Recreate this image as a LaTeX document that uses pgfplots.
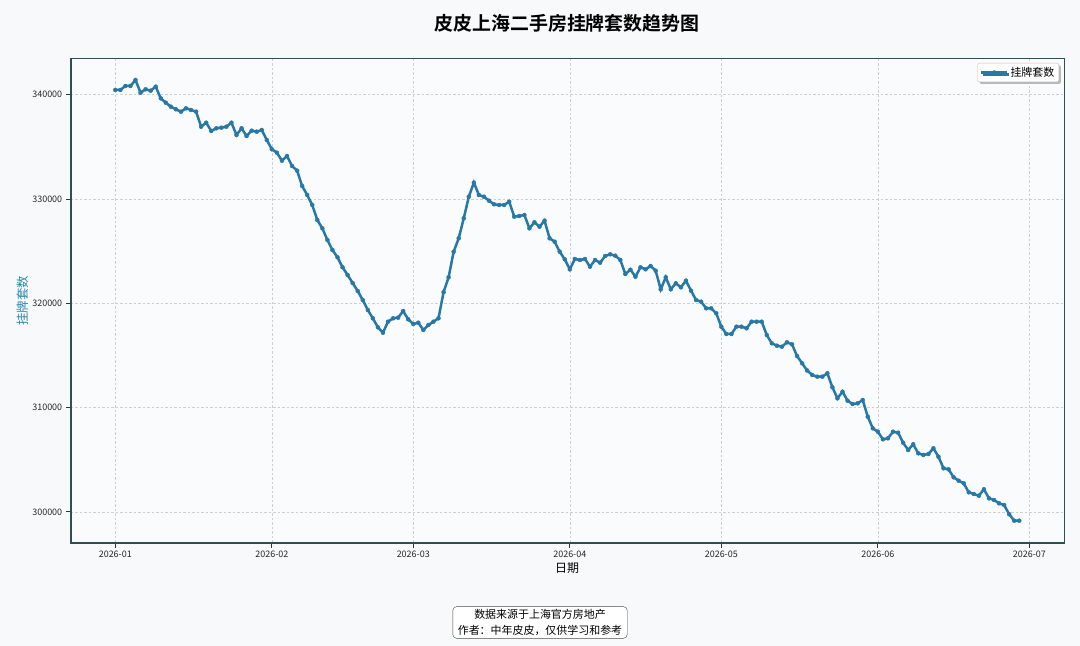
\documentclass[border=0pt]{standalone}
\usepackage{pgfplots}
\pgfplotsset{compat=1.18}
\usepackage{pgfplotstable}
\usepackage{fontspec}
\setmainfont{Noto Sans CJK SC}[BoldFont={Noto Sans CJK SC Bold}]
\usetikzlibrary{shadows}
\definecolor{figbg}{HTML}{F7F9FB}
\definecolor{axbg}{HTML}{F9FBFD}
\definecolor{framec}{HTML}{2F4F4F}
\definecolor{linec}{RGB}{40,120,166}
\definecolor{ylabc}{RGB}{46,134,171}
\pgfplotstableread{
d v
0 340451
1 340451
2 340834
3 340834
4 341409
5 340192
6 340518
7 340384
8 340767
9 339655
10 339233
11 338849
12 338600
13 338370
14 338696
15 338533
16 338370
17 336932
18 337315
19 336520
20 336778
21 336836
22 336932
23 337315
24 336136
25 336778
26 336040
27 336548
28 336452
29 336615
30 335657
31 334765
32 334439
33 333672
34 334123
35 333164
36 332713
37 331246
38 330383
39 329424
40 327986
41 327190
42 326068
43 325109
44 324410
45 323451
46 322713
47 321946
48 321179
49 320316
50 319357
51 318561
52 317698
53 317180
54 318235
55 318561
56 318619
57 319261
58 318465
59 318015
60 318140
61 317440
62 317920
63 318235
64 318561
65 321060
66 322492
67 324947
68 326232
69 328149
70 330220
71 331563
72 330383
73 330220
74 329837
75 329492
76 329425
77 329425
78 329741
79 328303
80 328370
81 328466
82 327190
83 327766
84 327344
85 327919
86 326232
87 325906
88 324947
89 324218
90 323259
91 324247
92 324151
93 324247
94 323509
95 324151
96 323892
97 324535
98 324698
99 324563
100 324151
101 322808
102 323221
103 322550
104 323451
105 323259
106 323576
107 323125
108 321342
109 322492
110 321342
111 321917
112 321533
113 322167
114 321208
115 320316
116 320153
117 319520
118 319520
119 319041
120 317756
121 317056
122 317056
123 317756
124 317756
125 317603
126 318235
127 318235
128 318235
129 316960
130 316164
131 315934
132 315838
133 316260
134 316068
135 314947
136 314247
137 313556
138 313126
139 312962
140 312962
141 313288
142 311946
143 310891
144 311524
145 310661
146 310344
147 310411
148 310728
149 309127
150 308015
151 307689
152 306960
153 307056
154 307689
155 307593
156 306634
157 305934
158 306481
159 305617
160 305455
161 305550
162 306097
163 305291
164 304179
165 304083
166 303316
167 302990
168 302741
169 301878
170 301715
171 301552
172 302166
173 301303
174 301140
175 300823
176 300660
177 299777
178 299155
179 299155
}\datatable
\begin{document}
\begin{tikzpicture}[x=1bp,y=1bp]
\fill[figbg] (0,0) rectangle (1080,646);
\begin{axis}[
  at={(70.7bp,103.3bp)}, anchor=south west,
  width=993.8bp, height=484.2bp, scale only axis,
  xmin=-8.83, xmax=187.96, ymin=297047, ymax=343471,
  axis background/.style={fill=axbg},
  axis line style={draw=framec, line width=1.8bp},
  xtick={0,31,59,90,120,151,181},
  xticklabels={2026-01,2026-02,2026-03,2026-04,2026-05,2026-06,2026-07},
  ytick={300000,310000,320000,330000,340000},
  scaled y ticks=false,
  yticklabel style={/pgf/number format/.cd, fixed, set thousands separator={}},
  /pgf/number format/assume math mode=true,
  ticklabel style={font=\fontsize{9}{10}\selectfont, text=black!85},
  tick pos=left, tick align=outside, major tick length=5bp,
  tick style={draw=black!80, line width=0.8bp},
  grid=major,
  major grid style={dash pattern=on 2.5bp off 2bp, draw=gray!38, line width=0.5bp},
  legend image code/.code={\draw[mark repeat=2,mark phase=2,#1] plot coordinates {(0bp,0bp)(13bp,0bp)(26bp,0bp)};},
  legend style={at={(0.9945,0.9907)}, anchor=north east, draw=gray!50, fill=white,
    rounded corners=2bp, font=\fontsize{11}{12}\selectfont,
    inner xsep=2.5bp, inner ysep=2bp,
    drop shadow={shadow xshift=2bp, shadow yshift=-2bp, fill=gray!55, opacity=1}},
  legend cell align=left,
]
\addplot[color=linec, line width=2.5bp, mark=*, mark size=2bp, mark options={fill=linec, draw=linec, line width=0.4bp}]
  table[x=d, y=v] {\datatable};
\addlegendentry{挂牌套数}
\end{axis}
\node[font=\bfseries\fontsize{19}{22}\selectfont] at (567,623) {皮皮上海二手房挂牌套数趋势图};
\node[font=\fontsize{12}{14}\selectfont] at (567,78) {日期};
\node[font=\fontsize{12.5}{14}\selectfont, text=ylabc, rotate=90] at (22.5,345) {挂牌套数};
\node[draw=black!70, rounded corners=4bp, fill=white, align=center, inner xsep=5bp, inner ysep=3bp,
  font=\fontsize{11}{15.5}\selectfont] at (540,23.5) {数据来源于上海官方房地产\\作者：中年皮皮，仅供学习和参考};
\end{tikzpicture}
\end{document}
